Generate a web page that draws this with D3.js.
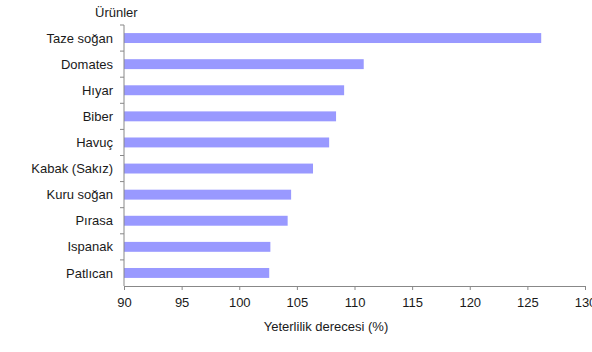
<!DOCTYPE html>
<html>
<head>
<meta charset="utf-8">
<script src="https://cdn.jsdelivr.net/npm/d3@7"></script>
<style>
  body { margin: 0; background: #fff; }
  svg text { font-family: "Liberation Sans", Arial, sans-serif; fill: #1a1a1a; }
</style>
</head>
<body>
<svg id="drawing-area"></svg>
<script>
// products and self-sufficiency (%)
var urunler = ["Taze soğan", "Domates", "Hıyar", "Biber", "Havuç",
               "Kabak (Sakız)", "Kuru soğan", "Pırasa", "Ispanak", "Patlıcan"];
var yeterlilik = [126.2, 110.8, 109.1, 108.4, 107.8, 106.4, 104.5, 104.2, 102.7, 102.6];
var xTicks = [90, 95, 100, 105, 110, 115, 120, 125, 130];

var width = 592;
var height = 352;

var da = d3.select("#drawing-area")
    .attr("width", width)
    .attr("height", height);

var xScale = d3.scaleLinear()
    .domain([90, 130])
    .range([124, 585]);

var yScale = d3.scaleBand()
    .domain(urunler)
    .range([25, 286])
    .paddingInner(0.62)
    .paddingOuter(0.31);

var data = urunler.map(function(u, i){
    return {urun: u, deger: yeterlilik[i]};
});

da.selectAll(".bar")
    .data(data)
    .enter()
    .append("rect")
    .attr("class", "bar")
    .attr("x", xScale(90))
    .attr("y", function(d){ return yScale(d.urun); })
    .attr("width", function(d){ return xScale(d.deger) - xScale(90); })
    .attr("height", yScale.bandwidth())
    .attr("fill", "#9999ff");

// x axis
var xAxis = d3.axisBottom(xScale)
    .tickValues(xTicks)
    .tickSize(4)
    .tickSizeOuter(0);

var gx = da.append("g")
    .attr("transform", "translate(0,286)")
    .call(xAxis);
gx.select(".domain").attr("stroke", "#888");
gx.selectAll(".tick line").attr("stroke", "#888");
gx.selectAll(".tick text")
    .attr("dy", null)
    .attr("y", 21)
    .style("font-size", "13px")
    .attr("fill", "#1a1a1a");

// y axis: ticks sit between categories
var gy = da.append("g")
    .attr("transform", "translate(124,0)");
gy.append("line")
    .attr("y1", 25).attr("y2", 286)
    .attr("stroke", "#888");
var step = yScale.step();
gy.selectAll(".ytick")
    .data(d3.range(urunler.length))
    .enter()
    .append("line")
    .attr("class", "ytick")
    .attr("x1", -4).attr("x2", 0)
    .attr("y1", function(i){ return 25 + i * step; })
    .attr("y2", function(i){ return 25 + i * step; })
    .attr("stroke", "#888");

da.selectAll(".cat-label")
    .data(urunler)
    .enter()
    .append("text")
    .attr("class", "cat-label")
    .attr("x", 113)
    .attr("y", function(d){ return yScale(d) + yScale.bandwidth() / 2; })
    .attr("dy", "0.35em")
    .style("text-anchor", "end")
    .style("font-size", "13px")
    .text(function(d){ return d; });

da.append("text")
    .attr("x", 95)
    .attr("y", 17)
    .style("font-size", "13px")
    .text("Ürünler");

da.append("text")
    .attr("x", 326)
    .attr("y", 331)
    .style("text-anchor", "middle")
    .style("font-size", "13px")
    .text("Yeterlilik derecesi (%)");
</script>
</body>
</html>
